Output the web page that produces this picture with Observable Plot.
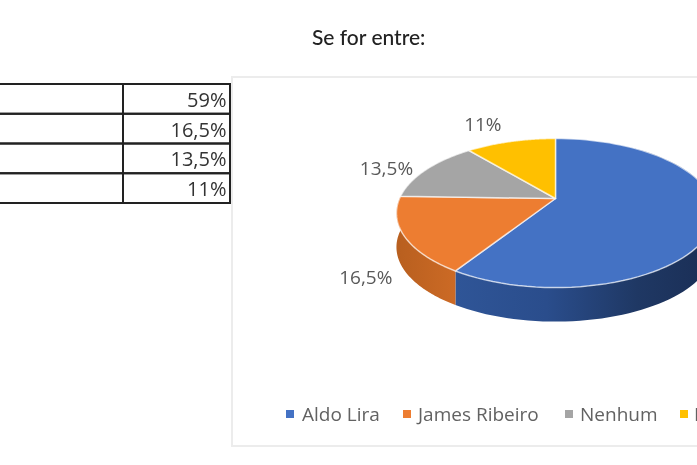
<!DOCTYPE html>
<html><head><meta charset="utf-8">
<script src="https://cdn.jsdelivr.net/npm/d3@7"></script>
<script src="https://cdn.jsdelivr.net/npm/@observablehq/plot@0.6"></script>
<style>
html,body{margin:0;padding:0;background:#fff;width:697px;height:465px;overflow:hidden}
#stage{position:relative;width:697px;height:465px;overflow:hidden;filter:blur(.7px);font-family:"Open Sans",sans-serif}
#stage svg{position:absolute;left:0;top:0;background:transparent}
#title{position:absolute;left:312px;top:24px;font-family:Lato,sans-serif;font-size:21px;font-weight:500;color:#222;white-space:nowrap;line-height:26px}
#panel{position:absolute;left:231px;top:76px;width:480px;height:367px;border:2px solid #ececec;background:#fff}
.lg{position:absolute;top:401px;font-size:19px;line-height:26px;color:#626262;white-space:nowrap}
.mk{position:absolute;top:410px;width:8px;height:8px}
</style></head><body>
<div id="stage"><div id="title">Se for entre:</div></div>
<script>
const names = ["Aldo Lira", "James Ribeiro", "Nenhum", "Não sabe"];
const shares = [59, 16.5, 13.5, 11];
const shareLabels = ["59%", "16,5%", "13,5%", "11%"];
const colors = ["#4472c4", "#ed7d31", "#a5a5a5", "#ffc000"];
const tilt = 0.195;      // perspective of the disc
const depth = 0.475;     // wall height, in y-scale units

const stage = document.getElementById("stage");

// Table (left columns are cropped by the picture)
const rows = names.map((n, i) => ({name: n, label: shareLabels[i]}));
const table = Plot.plot({
  width: 697, height: 465, margin: 0,
  x: {domain: [0, 697], range: [0, 697], axis: null},
  y: {type: "band", domain: names, range: [84, 203], padding: 0, round: false, axis: null},
  marks: [
    Plot.barX(rows, {x1: -5, x2: 123, y: "name", fill: "none", stroke: "#222", strokeWidth: 2}),
    Plot.barX(rows, {x1: 123, x2: 230, y: "name", fill: "none", stroke: "#222", strokeWidth: 2}),
    Plot.text(rows, {x: 226, y: "name", text: "label", textAnchor: "end", fontSize: 20, fill: "#333", fontFamily: "Open Sans", dy: 1})
  ]
});
stage.append(table);

const panel = document.createElement("div");
panel.id = "panel";
stage.append(panel);

// Pie geometry from the shares: a perspective view of a unit circle
const total = d3.sum(shares);
const cum = d3.cumsum(shares);
const ang = s => s / total * 2 * Math.PI;
const proj = (t, drop = 0) => {
  const X = Math.sin(t), Y = -Math.cos(t), w = 1 - tilt * Y;
  return {x: X / w, y: Y / w + drop};
};
const arc = (a, b, drop = 0) => d3.range(0, 81).map(k => proj(a + (b - a) * k / 80, drop));

const faces = names.flatMap((n, i) => {
  const a = ang(i ? cum[i - 1] : 0), b = ang(cum[i]);
  const c = {x: 0, y: 0};
  return [c, ...arc(a, b), c].map(p => ({...p, name: n}));
});
const wall = (a, b) => [...arc(a, b), ...arc(a, b, depth).reverse()];
const blueWall = wall(ang(10), ang(cum[0]));
const orangeWall = wall(ang(cum[0]), ang(cum[1]));

const offsets = [[0, 0], [-38, 42], [-40, -1], [-28, -17]];
const labels = names.map((n, i) => {
  const a = ang(i ? cum[i - 1] : 0), b = ang(cum[i]);
  return {...proj((a + b) / 2), label: shareLabels[i], dx: offsets[i][0], dy: offsets[i][1]};
}).slice(1);

const defs = () => {
  const s = d3.create("svg:defs");
  const g1 = s.append("linearGradient").attr("id", "blueG");
  [[0, "#2f5597"], [.35, "#2a4d8c"], [.7, "#1f3864"], [1, "#1a2e55"]].forEach(([o, c]) => g1.append("stop").attr("offset", o).attr("stop-color", c));
  const g2 = s.append("linearGradient").attr("id", "orangeG");
  [[0, "#b85f1f"], [1, "#cc6a25"]].forEach(([o, c]) => g2.append("stop").attr("offset", o).attr("stop-color", c));
  return s.node();
};

const chart = Plot.plot({
  width: 697, height: 465, margin: 0,
  x: {domain: [-555 / 156, 142 / 156], range: [0, 697], axis: null},
  y: {domain: [-198 / 71.7, 267 / 71.7], range: [0, 465], axis: null},
  color: {domain: names, range: colors},
  marks: [
    defs,
    Plot.line(blueWall, {x: "x", y: "y", fill: "url(#blueG)", stroke: "none"}),
    Plot.line(orangeWall, {x: "x", y: "y", fill: "url(#orangeG)", stroke: "none"}),
    Plot.line(faces, {x: "x", y: "y", z: "name", fill: "name", stroke: "#fff", strokeOpacity: 0.65, strokeWidth: 1.5}),
    ...labels.map(l => Plot.text([l], {x: "x", y: "y", text: "label", dx: l.dx, dy: l.dy, fontSize: 19, fill: "#595959", fontFamily: "Open Sans"}))
  ]
});
stage.append(chart);

// Legend
const legendMarks = [286, 403, 565, 680];
const legendTexts = [302, 418, 580, 694];
names.forEach((n, i) => {
  const m = document.createElement("span");
  m.className = "mk"; m.style.left = legendMarks[i] + "px"; m.style.background = colors[i];
  const t = document.createElement("span");
  t.className = "lg"; t.style.left = legendTexts[i] + "px"; t.textContent = n;
  stage.append(m, t);
});
</script>
</body></html>
